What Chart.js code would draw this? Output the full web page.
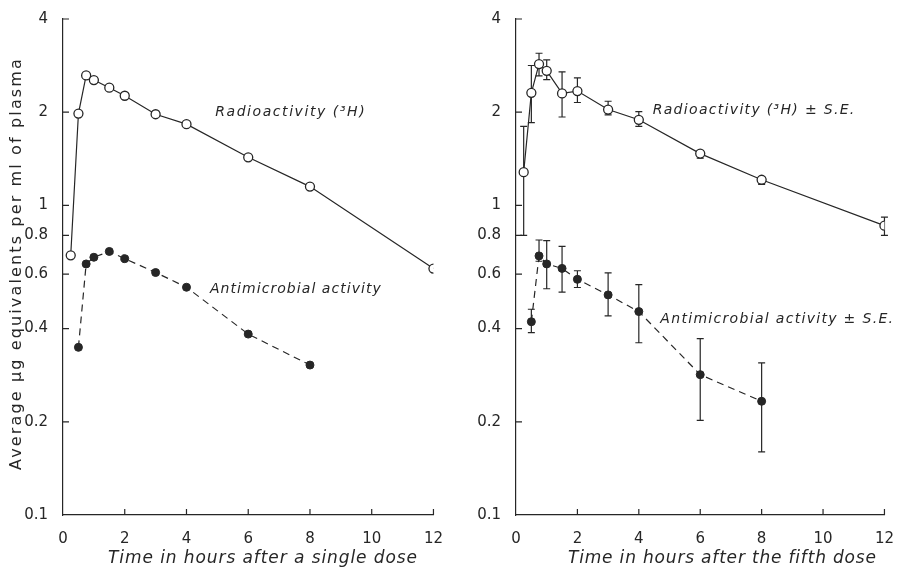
<!DOCTYPE html>
<html>
<head>
<meta charset="utf-8">
<script src="https://cdn.jsdelivr.net/npm/chart.js@4.4.1/dist/chart.umd.min.js"></script>
<style>
  body { margin: 0; background: #fff; }
  .panel { position: absolute; top: 0; height: 567px; }
</style>
</head>
<body>
<div class="panel" style="left:0;width:450px"><canvas id="single"></canvas></div>
<div class="panel" style="left:450px;width:451px"><canvas id="fifth"></canvas></div>
<script>
// sampling times (hours)
const hours = [0.25, 0.5, 0.75, 1, 1.5, 2, 3, 4, 6, 8, 12];
const antiHours = [0.5, 0.75, 1, 1.5, 2, 3, 4, 6, 8];

// single dose
const radioSingle = [0.69, 1.98, 2.63, 2.54, 2.40, 2.26, 1.97, 1.83, 1.43, 1.15, 0.625];
const antiSingle = [0.348, 0.647, 0.68, 0.71, 0.673, 0.607, 0.544, 0.384, 0.305];

// fifth dose, with S.E.
const radioFifth = [1.28, 2.31, 2.86, 2.72, 2.30, 2.34, 2.04, 1.89, 1.47, 1.21, 0.86];
const radioFifthLow = [0.80, 1.85, 2.62, 2.55, 1.93, 2.15, 1.96, 1.80, 1.42, 1.17, 0.80];
const radioFifthHigh = [1.80, 2.83, 3.10, 2.95, 2.70, 2.58, 2.17, 2.01, 1.50, 1.24, 0.917];
const antiFifth = [0.421, 0.687, 0.647, 0.626, 0.577, 0.514, 0.454, 0.284, 0.233];
const antiFifthLow = [0.388, 0.66, 0.538, 0.525, 0.543, 0.44, 0.36, 0.202, 0.16];
const antiFifthHigh = [0.462, 0.773, 0.77, 0.737, 0.615, 0.605, 0.555, 0.371, 0.31];

const yTicks = [0.1, 0.2, 0.4, 0.6, 0.8, 1, 2, 4];
const xTicks = [0, 2, 4, 6, 8, 10, 12];

const ink = "#262626";
const family = "DejaVu Sans";

function pts(xs, ys) {
  return xs.map((x, i) => ({ x: x, y: ys[i] }));
}

// draw text stretched with letter spacing to a given width
function spacedText(ctx, text, x, y, width, font) {
  ctx.font = font;
  ctx.letterSpacing = "0px";
  const w = ctx.measureText(text).width;
  ctx.letterSpacing = ((width - w) / text.length) + "px";
  ctx.fillText(text, x, y);
  ctx.letterSpacing = "0px";
}

const errorBars = {
  id: "errorBars",
  beforeDatasetsDraw(chart) {
    const ctx = chart.ctx, xs = chart.scales.x, ys = chart.scales.y;
    ctx.save();
    ctx.strokeStyle = ink;
    ctx.lineWidth = 1.2;
    chart.data.datasets.forEach(ds => {
      if (!ds.errLow) return;
      ds.data.forEach((p, i) => {
        const x = xs.getPixelForValue(p.x);
        const y1 = ys.getPixelForValue(ds.errLow[i]);
        const y2 = ys.getPixelForValue(ds.errHigh[i]);
        ctx.beginPath();
        ctx.moveTo(x, y1); ctx.lineTo(x, y2);
        ctx.moveTo(x - 3.5, y1); ctx.lineTo(x + 3.5, y1);
        ctx.moveTo(x - 3.5, y2); ctx.lineTo(x + 3.5, y2);
        ctx.stroke();
      });
    });
    ctx.restore();
  }
};

const decor = {
  id: "decor",
  afterDraw(chart, args, opts) {
    const ctx = chart.ctx, xs = chart.scales.x, ys = chart.scales.y;
    const area = chart.chartArea;
    ctx.save();
    ctx.strokeStyle = ink;
    ctx.fillStyle = ink;
    ctx.lineWidth = 1.2;
    // inward tick marks
    ctx.beginPath();
    yTicks.forEach(v => {
      if (v === 0.1) return;
      const y = ys.getPixelForValue(v);
      ctx.moveTo(area.left, y); ctx.lineTo(area.left + 6, y);
    });
    xTicks.forEach(v => {
      if (v === 0) return;
      const x = xs.getPixelForValue(v);
      ctx.moveTo(x, area.bottom); ctx.lineTo(x, area.bottom - 6);
    });
    ctx.stroke();

    // curve labels
    ctx.textBaseline = "middle";
    ctx.textAlign = "left";
    opts.labels.forEach(l => {
      spacedText(ctx, l.text, xs.getPixelForValue(l.t), ys.getPixelForValue(l.v), l.width,
        "italic 14px '" + family + "'");
    });

    // x axis title
    ctx.textBaseline = "alphabetic";
    spacedText(ctx, opts.xTitle, opts.xTitleLeft, 563, opts.xTitleWidth, "italic 17px '" + family + "'");

    // y axis title
    if (opts.yTitle) {
      ctx.translate(17, 470);
      ctx.rotate(-Math.PI / 2);
      ctx.textBaseline = "middle";
      spacedText(ctx, opts.yTitle, 0, 0, 413, "16px '" + family + "'");
    }
    ctx.restore();
  }
};

function makeChart(id, datasets, cfg) {
  return new Chart(document.getElementById(id), {
    type: "line",
    data: { datasets: datasets },
    options: {
      responsive: true,
      maintainAspectRatio: false,
      animation: false,
      layout: { padding: { top: 19, right: cfg.padRight, bottom: 0, left: 0 } },
      plugins: {
        legend: { display: false },
        tooltip: { enabled: false },
        decor: cfg
      },
      scales: {
        x: {
          type: "linear",
          min: 0,
          max: 12,
          afterBuildTicks: s => { s.ticks = xTicks.map(v => ({ value: v })); },
          grid: { display: false },
          border: { color: ink, width: 1.2 },
          ticks: { color: ink, font: { family: family, size: 15 }, padding: 7, maxRotation: 0, autoSkip: false },
          afterFit: s => { s.height = 52; }
        },
        y: {
          type: "logarithmic",
          min: 0.1,
          max: 4,
          afterBuildTicks: s => { s.ticks = yTicks.map(v => ({ value: v })); },
          grid: { display: false },
          border: { color: ink, width: 1.2 },
          ticks: { color: ink, font: { family: family, size: 15 }, padding: 7, autoSkip: false,
                   callback: v => String(v) },
          afterFit: s => { s.width = cfg.axisWidth; }
        }
      }
    },
    plugins: [errorBars, decor]
  });
}

function openSeries(data, extra) {
  return Object.assign({
    data: data,
    borderColor: ink,
    borderWidth: 1.2,
    pointRadius: 4.5,
    pointBorderWidth: 1.3,
    pointBackgroundColor: "#fff",
    pointBorderColor: ink,
    tension: 0
  }, extra || {});
}

function filledSeries(data, extra) {
  return Object.assign({
    data: data,
    borderColor: ink,
    borderWidth: 1.2,
    borderDash: [7, 5],
    pointRadius: 4,
    pointBorderWidth: 1,
    pointBackgroundColor: ink,
    pointBorderColor: ink,
    tension: 0
  }, extra || {});
}

makeChart("single", [
  openSeries(pts(hours, radioSingle)),
  filledSeries(pts(antiHours, antiSingle))
], {
  axisWidth: 63,
  padRight: 13,
  labels: [
    { text: "Radioactivity (³H)", t: 4.93, v: 2.0, width: 151 },
    { text: "Antimicrobial activity", t: 4.76, v: 0.537, width: 172 }
  ],
  xTitle: "Time in hours after a single dose",
  xTitleLeft: 108,
  xTitleWidth: 310,
  yTitle: "Average µg equivalents per ml of plasma"
});

makeChart("fifth", [
  openSeries(pts(hours, radioFifth), { errLow: radioFifthLow, errHigh: radioFifthHigh }),
  filledSeries(pts(antiHours, antiFifth), { errLow: antiFifthLow, errHigh: antiFifthHigh })
], {
  axisWidth: 66,
  padRight: 9,
  labels: [
    { text: "Radioactivity (³H) ± S.E.", t: 4.45, v: 2.03, width: 203 },
    { text: "Antimicrobial activity ± S.E.", t: 4.70, v: 0.43, width: 234 }
  ],
  xTitle: "Time in hours after the fifth dose",
  xTitleLeft: 118,
  xTitleWidth: 309,
  yTitle: null
});
</script>
</body>
</html>
